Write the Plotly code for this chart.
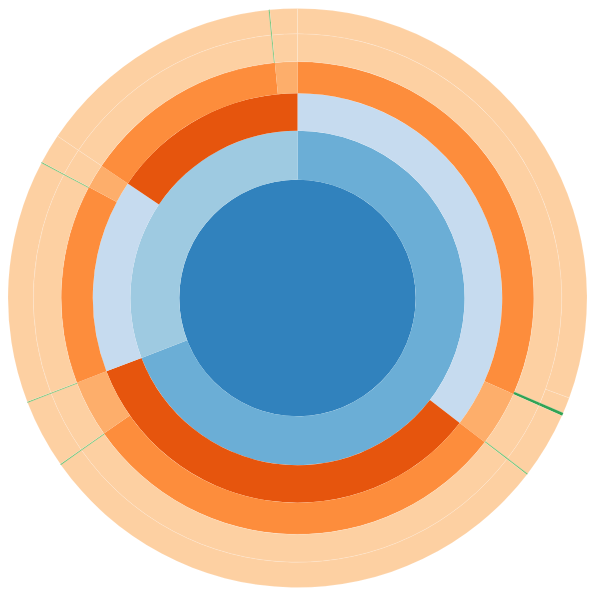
import math
import plotly.graph_objects as go

# ---- hierarchy (leaf values; internal nodes get the sum of their children) ----
ids = [
    "root",
    "A", "A1", "A1a", "A1a-p", "A1a-p-1", "A1a-p-2", "A1a-g", "A1a-g-1",
    "A1b", "A1b-p", "A1b-p-1", "A1b-g", "A1b-g-1",
    "A2", "A2a", "A2a-p", "A2a-p-1", "A2a-g", "A2a-g-1",
    "A2b", "A2b-p", "A2b-p-1", "A2b-g", "A2b-g-1",
    "B", "B1", "B1a", "B1a-p", "B1a-p-1", "B1a-g", "B1a-g-1",
    "B1b", "B1b-p", "B1b-p-1",
    "B2", "B2a", "B2a-p", "B2a-p-1", "B2a-g", "B2a-g-1",
    "B2b", "B2b-p", "B2b-p-1",
]
parents = [
    "",
    "root", "A", "A1", "A1a", "A1a-p", "A1a-p", "A1a", "A1a-g",
    "A1", "A1b", "A1b-p", "A1b", "A1b-g",
    "A", "A2", "A2a", "A2a-p", "A2a", "A2a-g",
    "A2", "A2b", "A2b-p", "A2b", "A2b-g",
    "root", "B", "B1", "B1a", "B1a-p", "B1a", "B1a-g",
    "B1", "B1b", "B1b-p",
    "B", "B2", "B2a", "B2a-p", "B2a", "B2a-g",
    "B2", "B2b", "B2b-p",
]
leaf_values = {
    "A1a-p-1": 110.2, "A1a-p-2": 3.2, "A1a-g-1": 0.6,
    "A1b-p-1": 13.35, "A1b-g-1": 0.25,
    "A2a-p-1": 107.2, "A2a-g-1": 0.2,
    "A2b-p-1": 13.8, "A2b-g-1": 0.2,
    "B1a-p-1": 48.8, "B1a-g-1": 0.2,
    "B1b-p-1": 6.0,
    "B2a-p-1": 50.3, "B2a-g-1": 0.2,
    "B2b-p-1": 5.5,
}
# colour group of each node
groups = [
    "g0",
    "g1a", "g2a", "g3a", "g4", "g4", "g4", "gG", "gG",
    "g3b", "g4", "g4", "gg", "gg",
    "g2b", "g3a", "g4", "g4", "gg", "gg",
    "g3b", "g4", "g4", "gg", "gg",
    "g1b", "g2a", "g3a", "g4", "g4", "gg", "gg",
    "g3b", "g4", "g4",
    "g2b", "g3a", "g4", "g4", "gg", "gg",
    "g3b", "g4", "g4",
]

palette = {
    "g0": "#3182bd", "g1a": "#6baed6", "g1b": "#9ecae1",
    "g2a": "#c6dbef", "g2b": "#e6550d",
    "g3a": "#fd8d3c", "g3b": "#fdae6b",
    "g4": "#fdd0a2", "gG": "#31a354", "gg": "#74c476",
}

# ---- partition layout ----
children = {i: [] for i in ids}
for i, p in zip(ids, parents):
    if p:
        children[p].append(i)

def total(n):
    if not children[n]:
        return leaf_values[n]
    return sum(total(c) for c in children[n])

totals = {n: total(n) for n in ids}
depth = {}
start = {}
def layout(n, d, a0):
    depth[n] = d
    start[n] = a0
    a = a0
    for c in children[n]:
        layout(c, d + 1, a)
        a += totals[c] * 360.0 / totals["root"]
layout("root", 0, 0.0)

max_depth = max(depth.values()) + 1
def rad(k):
    return math.sqrt(k / max_depth)

fig = go.Figure()
for d in range(max_depth):
    nodes = [n for n in ids if depth[n] == d]
    th, wd, rr, bs, cols, lcols, lw = [], [], [], [], [], [], []
    for n in nodes:
        span = totals[n] * 360.0 / totals["root"]
        th.append(start[n] + span / 2)
        wd.append(span)
        bs.append(rad(d))
        rr.append(rad(d + 1) - rad(d))
        g = groups[ids.index(n)]
        cols.append(palette[g])
        if g == "g4":
            lcols.append("rgba(255,255,255,0.3)")
            lw.append(0.5)
        elif g in ("gG", "gg"):
            lcols.append(palette[g])
            lw.append(0.2)
        else:
            lcols.append(palette[g])
            lw.append(0)
    fig.add_trace(go.Barpolar(
        r=rr, base=bs, theta=th, width=wd,
        marker=dict(color=cols, line=dict(color=lcols, width=lw)),
        hoverinfo="skip", showlegend=False,
    ))

fig.update_layout(
    width=595, height=596,
    margin=dict(l=0, r=0, t=0, b=0),
    paper_bgcolor="white",
    polar=dict(
        domain=dict(x=[0, 1], y=[0, 1]),
        bgcolor="white",
        barmode="overlay",
        bargap=0,
        radialaxis=dict(range=[0, 297.5 / 289.5], visible=False,
                        showgrid=False, showline=False, showticklabels=False),
        angularaxis=dict(rotation=90, direction="clockwise", visible=False,
                         showgrid=False, showline=False, showticklabels=False),
    ),
)
fig.write_html("out.html")
